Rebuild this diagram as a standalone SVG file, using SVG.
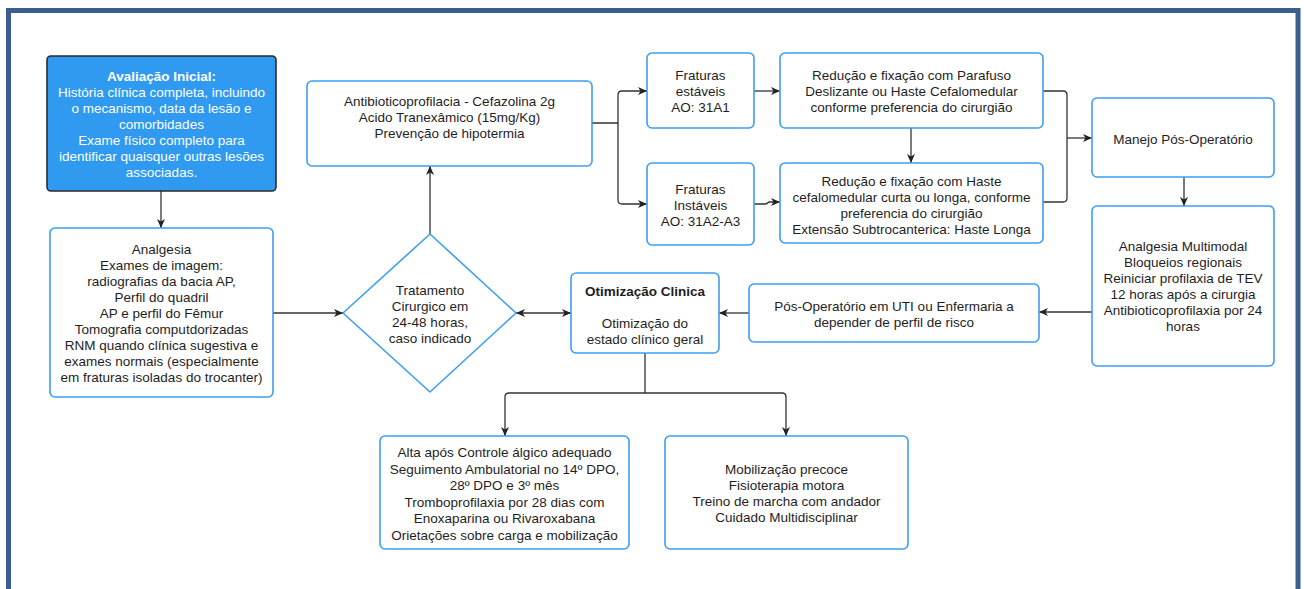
<svg xmlns="http://www.w3.org/2000/svg" width="1304" height="589" viewBox="0 0 1304 589">
<defs>
<marker id="arr" markerUnits="userSpaceOnUse" markerWidth="10" markerHeight="10" refX="9" refY="5" orient="auto-start-reverse">
<path d="M0,1 L9,5 L0,9 L2.5,5 z" fill="#222"/>
</marker>
</defs>
<style>
.box{fill:#fff;stroke:#3d9ef0;stroke-width:1.6}
.dark{fill:#2f9af0;stroke:#2b2b2b;stroke-width:1.6}
.t{font-family:"Liberation Sans",Arial,sans-serif;font-size:13.5px;fill:#1e1e1e;text-anchor:middle}
.w{fill:#fff}
.b{font-weight:bold}
.c{fill:none;stroke:#333;stroke-width:1.3}
.a{marker-end:url(#arr)}
</style>
<rect x="0" y="0" width="1304" height="589" fill="#fff"/>
<rect x="8.5" y="10.5" width="1289.5" height="640" fill="none" stroke="#3a5f8e" stroke-width="5"/>

<g id="connectors">
<path class="c a" d="M161,191 V228"/>
<path class="c a" d="M273,313 H343"/>
<path class="c a" d="M430,234 V166"/>
<path class="c a" d="M516,313 H571" marker-start="url(#arr)"/>
<path class="c a" d="M592,123 H618 V95 Q618,91 622,91 H647"/>
<path class="c a" d="M618,123 V200 Q618,204 622,204 H647"/>
<path class="c a" d="M754,91 H780"/>
<path class="c a" d="M754,204 H765 Q767,204 769,202 H780"/>
<path class="c a" d="M911,128 V163"/>
<path class="c" d="M1043,91 H1063 Q1067,91 1067,95 V198 Q1067,202 1063,202 H1043"/>
<path class="c a" d="M1067,138 H1092"/>
<path class="c a" d="M1184,177 V206"/>
<path class="c a" d="M1092,312 H1039"/>
<path class="c a" d="M749,313 H719"/>
<path class="c" d="M645,353 V393"/>
<path class="c a" d="M645,393 H509 Q505,393 505,397 V436"/>
<path class="c a" d="M645,393 H782 Q786,393 786,397 V436"/>
</g>

<g id="avaliacao">
<rect class="dark" x="47" y="56" width="229" height="135" rx="4"/>
<text class="t w b" x="161.5" y="81">Avaliação Inicial:</text>
<text class="t w" x="161.5" y="97">História clínica completa, incluindo</text>
<text class="t w" x="161.5" y="113">o mecanismo, data da lesão e</text>
<text class="t w" x="161.5" y="129">comorbidades</text>
<text class="t w" x="161.5" y="145">Exame físico completo para</text>
<text class="t w" x="161.5" y="161">identificar quaisquer outras lesões</text>
<text class="t w" x="161.5" y="177">associadas.</text>
</g>

<g id="analgesia">
<rect class="box" x="50" y="228" width="223" height="169" rx="5"/>
<text class="t" x="161.5" y="254">Analgesia</text>
<text class="t" x="161.5" y="270">Exames de imagem:</text>
<text class="t" x="161.5" y="286">radiografias da bacia AP,</text>
<text class="t" x="161.5" y="302">Perfil do quadril</text>
<text class="t" x="161.5" y="318">AP e perfil do Fêmur</text>
<text class="t" x="161.5" y="334">Tomografia computdorizadas</text>
<text class="t" x="161.5" y="350">RNM quando clínica sugestiva e</text>
<text class="t" x="161.5" y="366">exames normais (especialmente</text>
<text class="t" x="161.5" y="382">em fraturas isoladas do trocanter)</text>
</g>

<g id="antibiotico">
<rect class="box" x="307" y="81" width="285" height="85" rx="5"/>
<text class="t" x="449.5" y="106">Antibioticoprofilacia - Cefazolina 2g</text>
<text class="t" x="449.5" y="122">Acido Tranexâmico (15mg/Kg)</text>
<text class="t" x="449.5" y="138">Prevenção de hipotermia</text>
</g>

<g id="tratamento">
<path class="box" d="M430,234 L516,313 L430,392 L343,313 Z" stroke-linejoin="round"/>
<text class="t" x="430" y="295">Tratamento</text>
<text class="t" x="430" y="311">Cirurgico em</text>
<text class="t" x="430" y="327">24-48 horas,</text>
<text class="t" x="430" y="343">caso indicado</text>
</g>

<g id="otimizacao">
<rect class="box" x="571" y="273" width="148" height="80" rx="5"/>
<text class="t b" x="645" y="296">Otimização Clinica</text>
<text class="t" x="645" y="328">Otimização do</text>
<text class="t" x="645" y="344">estado clínico geral</text>
</g>

<g id="estaveis">
<rect class="box" x="647" y="53" width="107" height="75" rx="5"/>
<text class="t" x="700.5" y="80">Fraturas</text>
<text class="t" x="700.5" y="96">estáveis</text>
<text class="t" x="700.5" y="112">AO: 31A1</text>
</g>

<g id="instaveis">
<rect class="box" x="647" y="163" width="107" height="82" rx="5"/>
<text class="t" x="700.5" y="194">Fraturas</text>
<text class="t" x="700.5" y="210">Instáveis</text>
<text class="t" x="700.5" y="226">AO: 31A2-A3</text>
</g>

<g id="reducao1">
<rect class="box" x="780" y="53" width="263" height="75" rx="5"/>
<text class="t" x="911.5" y="80">Redução e fixação com Parafuso</text>
<text class="t" x="911.5" y="96">Deslizante ou Haste Cefalomedular</text>
<text class="t" x="911.5" y="112">conforme preferencia do cirurgião</text>
</g>

<g id="reducao2">
<rect class="box" x="780" y="163" width="263" height="80" rx="5"/>
<text class="t" x="911.5" y="186">Redução e fixação com Haste</text>
<text class="t" x="911.5" y="202">cefalomedular curta ou longa, conforme</text>
<text class="t" x="911.5" y="218">preferencia do cirurgião</text>
<text class="t" x="911.5" y="234">Extensão Subtrocanterica: Haste Longa</text>
</g>

<g id="manejo">
<rect class="box" x="1092" y="98" width="182" height="79" rx="5"/>
<text class="t" x="1183" y="144">Manejo Pós-Operatório</text>
</g>

<g id="analgesia-multimodal">
<rect class="box" x="1092" y="206" width="182" height="160" rx="5"/>
<text class="t" x="1183" y="251">Analgesia Multimodal</text>
<text class="t" x="1183" y="267">Bloqueios regionais</text>
<text class="t" x="1183" y="283">Reiniciar profilaxia de TEV</text>
<text class="t" x="1183" y="299">12 horas após a cirurgia</text>
<text class="t" x="1183" y="315">Antibioticoprofilaxia por 24</text>
<text class="t" x="1183" y="331">horas</text>
</g>

<g id="pos-operatorio">
<rect class="box" x="749" y="284" width="290" height="58" rx="5"/>
<text class="t" x="894" y="311">Pós-Operatório em UTI ou Enfermaria a</text>
<text class="t" x="894" y="327">depender de perfil de risco</text>
</g>

<g id="alta">
<rect class="box" x="380" y="436" width="249" height="113" rx="5"/>
<text class="t" x="504.5" y="457">Alta após Controle álgico adequado</text>
<text class="t" x="504.5" y="473.5">Seguimento Ambulatorial no 14º DPO,</text>
<text class="t" x="504.5" y="490">28º DPO e 3º mês</text>
<text class="t" x="504.5" y="506.5">Tromboprofilaxia por 28 dias com</text>
<text class="t" x="504.5" y="523">Enoxaparina ou Rivaroxabana</text>
<text class="t" x="504.5" y="539.5">Orietações sobre carga e mobilização</text>
</g>

<g id="mobilizacao">
<rect class="box" x="665" y="436" width="243" height="113" rx="5"/>
<text class="t" x="786.5" y="474">Mobilização precoce</text>
<text class="t" x="786.5" y="490">Fisioterapia motora</text>
<text class="t" x="786.5" y="506">Treino de marcha com andador</text>
<text class="t" x="786.5" y="522">Cuidado Multidisciplinar</text>
</g>
</svg>
